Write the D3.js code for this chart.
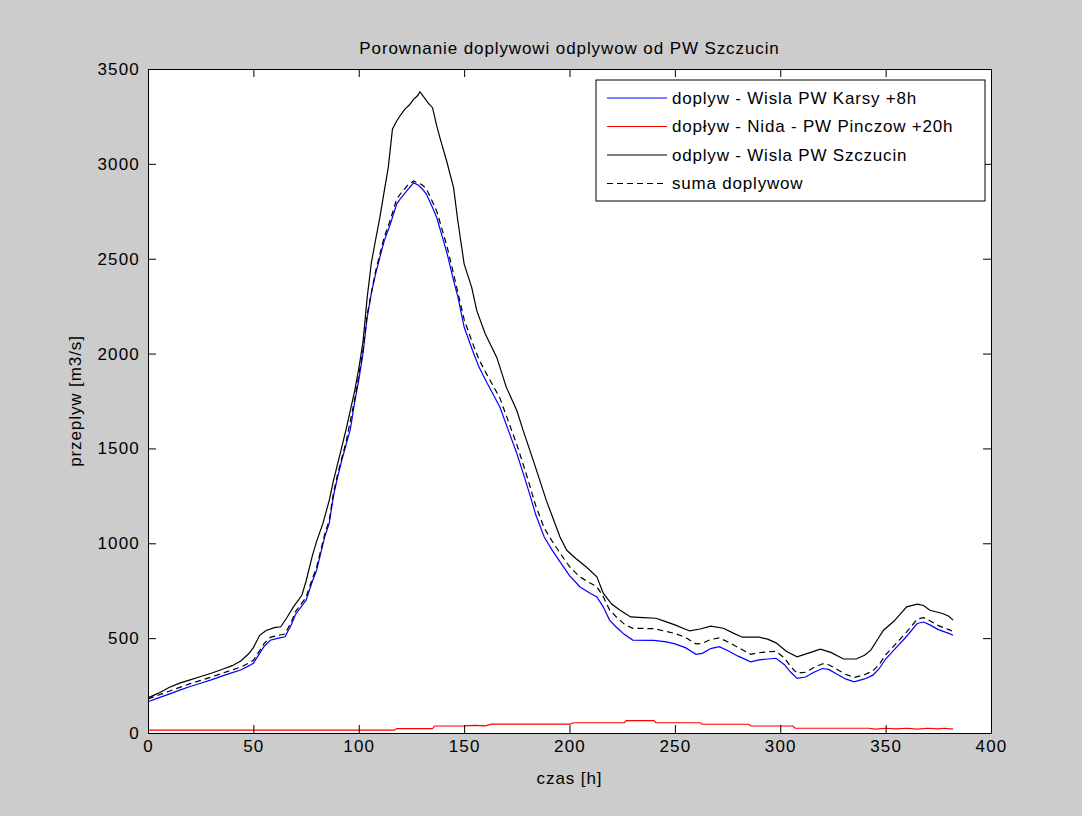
<!DOCTYPE html>
<html>
<head>
<meta charset="utf-8">
<script src="https://cdn.jsdelivr.net/npm/d3@7"></script>
<style>
  body { margin: 0; background: #cccccc; }
  svg { display: block; }
  text { font-family: "Liberation Sans", Arial, sans-serif; fill: #000; }
</style>
</head>
<body>
<svg id="chart"></svg>
<script>
// [hour, m3/s]
const karsy = [[0,165],[5,185],[10,205],[15,226],[20,245],[25,262],[30,280],[35,300],[40,318],[44,332],[48,355],[50,368],[53,420],[55,455],[58,489],[62,500],[65,507],[68,570],[70,625],[75,700],[78,800],[80,858],[82,950],[84,1040],[86,1105],[88,1250],[90,1350],[92,1440],[94,1520],[96,1600],[98,1740],[100,1860],[102,2000],[104,2190],[106,2320],[108,2420],[110,2507],[112,2590],[115,2683],[118,2788],[120,2820],[123,2860],[126,2900],[128,2890],[130,2870],[132,2842],[135,2770],[137,2717],[139,2640],[142,2524],[145,2384],[147,2300],[150,2140],[154,2016],[157,1930],[161,1842],[164,1780],[167,1717],[171,1595],[175,1473],[178,1370],[181,1263],[184,1150],[188,1033],[192,960],[196,894],[200,830],[205,770],[210,735],[213,717],[216,665],[219,595],[222,560],[226,520],[230,490],[240,488],[246,480],[250,470],[255,450],[260,415],[263,420],[267,445],[271,455],[275,435],[280,405],[286,375],[290,385],[294,390],[298,394],[302,360],[305,320],[308,288],[312,295],[316,320],[320,340],[323,335],[327,310],[331,285],[335,270],[340,285],[344,305],[347,340],[350,390],[355,450],[360,510],[365,577],[368,585],[371,570],[375,545],[380,525],[382,515]];

const nida = [[0,15],[117,15],[118,23],[135,23],[136,37],[150,38],[155,40],[160,38],[163,47],[200,47],[202,54],[226,54],[227,65],[240,65],[241,54],[262,54],[263,46],[285,46],[286,37],[306,37],[307,25],[342,25],[345,20],[350,25],[355,22],[360,25],[365,20],[370,25],[375,22],[378,25],[382,20]];

const szczucin = [[0,185],[5,210],[10,240],[15,263],[20,280],[25,298],[30,315],[35,335],[40,355],[44,380],[48,420],[50,450],[53,515],[56,540],[60,555],[63,560],[66,610],[69,665],[73,726],[75,800],[78,935],[80,1010],[83,1105],[86,1226],[88,1330],[90,1420],[92,1510],[94,1600],[96,1700],[98,1800],[100,1920],[102,2060],[104,2296],[106,2480],[108,2600],[110,2717],[112,2850],[114,2980],[116,3184],[118,3226],[120,3260],[122,3290],[124,3310],[126,3340],[128,3360],[129,3380],[131,3350],[133,3320],[135,3296],[137,3200],[138.5,3138],[141.7,3015],[145,2875],[147,2700],[150,2473],[153.6,2349],[156,2226],[160,2105],[165.5,1980],[170,1823],[175,1700],[178,1595],[182.8,1437],[189,1226],[195.5,1033],[198.7,963],[203,920],[208,875],[213,823],[216,737],[220,680],[224,647],[229,612],[235,608],[241,605],[245,590],[250,570],[257,538],[262,548],[267,563],[273,552],[278,525],[282,505],[286,505],[290,505],[294,495],[298,475],[303,430],[308,402],[313,420],[319,442],[324,425],[330,390],[336,390],[340,410],[343,437],[346,490],[349,542],[354,590],[360,665],[365,679],[368,672],[371,647],[377,630],[380,615],[382,595]];

const suma = [[0,180],[10,220],[20,260],[30,295],[40,333],[44,347],[48,370],[50,383],[53,435],[55,470],[58,504],[62,515],[65,522],[68,585],[70,640],[75,715],[78,815],[80,873],[84,1055],[86,1120],[88,1265],[90,1365],[94,1535],[98,1755],[102,2015],[104,2205],[108,2435],[112,2610],[115,2705],[118,2815],[120,2845],[123,2885],[126,2910],[128,2900],[130,2890],[132,2870],[135,2800],[137,2750],[139,2675],[142,2560],[145,2420],[150,2180],[154,2055],[157,1970],[161,1885],[164,1825],[167,1765],[171,1642],[175,1520],[178,1417],[181,1310],[184,1197],[188,1080],[192,1007],[196,941],[200,877],[205,822],[210,789],[213,771],[216,719],[219,649],[222,614],[226,574],[230,552],[240,550],[246,535],[250,525],[255,504],[260,470],[263,472],[267,493],[271,501],[275,481],[280,451],[286,415],[290,423],[294,428],[298,430],[302,395],[305,350],[308,315],[312,320],[316,345],[320,365],[323,360],[327,335],[331,310],[335,293],[340,307],[344,328],[347,362],[350,412],[355,472],[360,533],[365,600],[368,608],[371,592],[375,566],[380,545],[382,535]];

const xTicks = [0, 50, 100, 150, 200, 250, 300, 350, 400];
const yTicks = [0, 500, 1000, 1500, 2000, 2500, 3000, 3500];

const series = [
    { label: 'doplyw - Wisla PW Karsy +8h', data: karsy, color: '#0000ff', dash: null },
    { label: 'dopływ - Nida - PW Pinczow +20h', data: nida, color: '#ff0000', dash: null },
    { label: 'odplyw - Wisla PW Szczucin', data: szczucin, color: '#000000', dash: null },
    { label: 'suma doplywow', data: suma, color: '#000000', dash: '6,4' }
];

const W = 1082, H = 816;
const margin = { top: 69, right: 91, bottom: 83, left: 148 };
const width = W - margin.left - margin.right;
const height = H - margin.top - margin.bottom;

const root = d3.select('#chart').attr('width', W).attr('height', H);
root.append('rect').attr('width', W).attr('height', H).attr('fill', '#cccccc');

const svg = root.append('g').attr('transform', `translate(${margin.left},${margin.top})`);

const x = d3.scaleLinear().domain([0, 400]).range([0, width]);
const y = d3.scaleLinear().domain([0, 3500]).range([height, 0]);

svg.append('rect').attr('width', width).attr('height', height).attr('fill', '#fff');

// Lines
const line = d3.line().x(d => x(d[0])).y(d => y(d[1]));
svg.append('g')
    .selectAll('path')
    .data(series)
    .enter()
    .append('path')
    .attr('d', d => line(d.data))
    .attr('fill', 'none')
    .attr('stroke', d => d.color)
    .attr('stroke-width', 1.2)
    .attr('stroke-dasharray', d => d.dash);

// Axes (matlab style: inward ticks on all sides)
const tick = 8;
const styleAxis = g => {
    g.selectAll('.domain').attr('stroke', '#000');
    g.selectAll('.tick line').attr('stroke', '#000');
    g.selectAll('text').attr('font-size', '17px').attr('letter-spacing', '1.2px')
        .style('font-family', '"Liberation Sans", Arial, sans-serif');
};
svg.append('g').attr('transform', `translate(0,${height})`)
    .call(d3.axisBottom(x).tickValues(xTicks).tickSize(-tick).tickPadding(7).tickSizeOuter(0).tickFormat(d3.format('d')))
    .call(styleAxis);
svg.append('g')
    .call(d3.axisLeft(y).tickValues(yTicks).tickSize(-tick).tickPadding(8).tickSizeOuter(0).tickFormat(d3.format('d')))
    .call(styleAxis);
svg.append('g')
    .call(d3.axisTop(x).tickValues(xTicks).tickSize(-tick).tickFormat('').tickSizeOuter(0))
    .call(styleAxis);
svg.append('g').attr('transform', `translate(${width},0)`)
    .call(d3.axisRight(y).tickValues(yTicks).tickSize(-tick).tickFormat('').tickSizeOuter(0))
    .call(styleAxis);

// Title and labels
svg.append('text')
    .attr('x', width / 2).attr('y', -15)
    .attr('text-anchor', 'middle')
    .attr('font-size', '17px').attr('letter-spacing', '0.9px')
    .text('Porownanie doplywowi odplywow od PW Szczucin');
svg.append('text')
    .attr('x', width / 2).attr('y', height + 51)
    .attr('text-anchor', 'middle')
    .attr('font-size', '17px').attr('letter-spacing', '0.9px')
    .text('czas [h]');
svg.append('text')
    .attr('transform', 'rotate(-90)')
    .attr('x', -height / 2).attr('y', -67)
    .attr('text-anchor', 'middle')
    .attr('font-size', '17px').attr('letter-spacing', '0.9px')
    .text('przeplyw [m3/s]');

// Legend
const lg = svg.append('g').attr('transform', `translate(${596 - margin.left},${80 - margin.top})`);
lg.append('rect').attr('width', 389).attr('height', 121)
    .attr('fill', '#fff').attr('stroke', '#000');
const rows = lg.selectAll('.row').data(series).enter().append('g')
    .attr('transform', (d, i) => `translate(0,${18 + i * 28.5})`);
rows.append('line').attr('x1', 11).attr('x2', 71)
    .attr('stroke', d => d.color).attr('stroke-width', 1.2)
    .attr('stroke-dasharray', d => d.dash);
rows.append('text').attr('x', 76).attr('dy', '0.35em')
    .attr('font-size', '17px').attr('letter-spacing', '0.8px')
    .text(d => d.label);
</script>
</body>
</html>
